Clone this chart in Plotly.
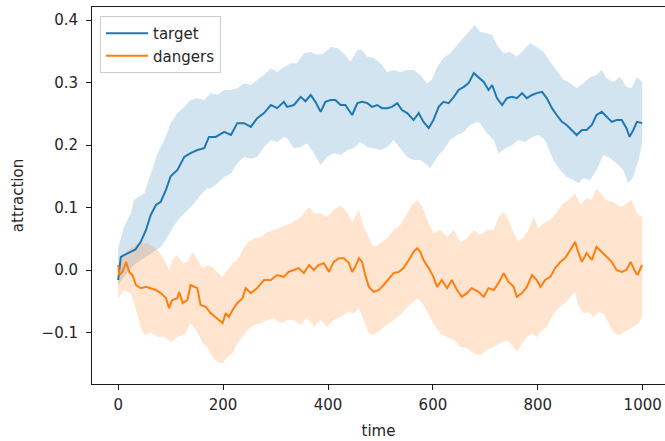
import plotly.graph_objects as go

# ---- target: mean attraction and spread band ----
target_t = [0, 5, 14, 24, 33, 43, 53, 62, 72, 81, 91, 100, 113, 126, 138, 151, 164, 173, 186, 202,
            215, 227, 240, 253, 265, 278, 291, 303, 316, 322, 335, 348, 357, 367, 376, 386, 395, 405,
            414, 424, 433, 446, 456, 465, 475, 484, 494, 503, 513, 522, 532, 541, 551, 563, 573, 582,
            592, 601, 611, 620, 630, 640, 649, 659, 668, 678, 687, 697, 706, 713, 722, 732, 741, 751,
            760, 770, 779, 789, 798, 808, 817, 827, 836, 846, 855, 865, 874, 884, 893, 903, 912, 922,
            931, 941, 950, 960, 969, 975, 982, 989, 999]
target_mean = [-0.016, 0.021, 0.025, 0.029, 0.033, 0.045, 0.064, 0.088, 0.104, 0.109, 0.128, 0.150,
               0.160, 0.181, 0.187, 0.192, 0.195, 0.213, 0.213, 0.221, 0.216, 0.235, 0.235, 0.229,
               0.243, 0.251, 0.264, 0.259, 0.269, 0.261, 0.264, 0.277, 0.270, 0.280, 0.269, 0.253,
               0.269, 0.272, 0.272, 0.264, 0.264, 0.248, 0.267, 0.269, 0.267, 0.261, 0.264, 0.259,
               0.259, 0.261, 0.267, 0.256, 0.251, 0.240, 0.251, 0.237, 0.227, 0.240, 0.261, 0.269,
               0.267, 0.277, 0.288, 0.293, 0.299, 0.315, 0.309, 0.301, 0.288, 0.296, 0.275, 0.264,
               0.275, 0.277, 0.275, 0.283, 0.275, 0.280, 0.283, 0.285, 0.275, 0.259, 0.248, 0.237,
               0.232, 0.224, 0.216, 0.224, 0.224, 0.232, 0.248, 0.253, 0.245, 0.237, 0.240, 0.240,
               0.227, 0.213, 0.224, 0.237, 0.235]

target_hi_t = [0, 11, 24, 30, 50, 62, 75, 88, 100, 113, 126, 138, 151, 164, 176, 189, 202, 215, 227,
               240, 253, 265, 278, 291, 303, 316, 329, 341, 354, 367, 380, 392, 405, 418, 430, 443,
               456, 465, 475, 487, 500, 513, 525, 538, 551, 563, 576, 589, 598, 608, 620, 633, 646,
               659, 671, 680, 690, 703, 713, 722, 735, 747, 760, 773, 785, 798, 811, 824, 836, 849,
               862, 874, 887, 900, 912, 922, 931, 944, 957, 969, 979, 989, 999]
target_hi = [0.035, 0.069, 0.091, 0.112, 0.123, 0.155, 0.187, 0.208, 0.235, 0.251, 0.261, 0.272,
             0.275, 0.272, 0.283, 0.280, 0.288, 0.288, 0.291, 0.299, 0.296, 0.304, 0.312, 0.323,
             0.317, 0.325, 0.331, 0.331, 0.347, 0.349, 0.344, 0.347, 0.357, 0.355, 0.347, 0.333,
             0.352, 0.352, 0.341, 0.339, 0.331, 0.317, 0.320, 0.317, 0.320, 0.320, 0.312, 0.299,
             0.304, 0.325, 0.339, 0.347, 0.360, 0.373, 0.384, 0.392, 0.381, 0.379, 0.376, 0.360,
             0.347, 0.349, 0.341, 0.352, 0.363, 0.357, 0.349, 0.333, 0.320, 0.304, 0.299, 0.291,
             0.299, 0.309, 0.312, 0.320, 0.307, 0.301, 0.309, 0.293, 0.291, 0.309, 0.301]

target_lo_t = [0, 10, 20, 30, 43, 60, 81, 94, 107, 119, 132, 145, 157, 170, 176, 189, 202, 215, 227,
               240, 253, 265, 278, 291, 303, 316, 322, 335, 348, 360, 373, 386, 398, 411, 424, 437,
               449, 462, 475, 487, 500, 513, 525, 538, 551, 563, 576, 589, 595, 608, 620, 633, 646,
               659, 671, 684, 690, 703, 716, 725, 738, 751, 763, 776, 789, 801, 814, 824, 833, 843,
               855, 868, 877, 887, 900, 912, 925, 938, 950, 963, 972, 982, 992, 999]
target_lo = [-0.025, -0.012, -0.002, 0.008, 0.015, 0.025, 0.037, 0.053, 0.072, 0.085, 0.096, 0.107,
             0.120, 0.131, 0.130, 0.139, 0.149, 0.155, 0.171, 0.181, 0.178, 0.181, 0.197, 0.208,
             0.205, 0.213, 0.211, 0.195, 0.197, 0.203, 0.187, 0.168, 0.181, 0.187, 0.184, 0.192,
             0.195, 0.205, 0.197, 0.195, 0.192, 0.197, 0.208, 0.195, 0.181, 0.176, 0.176, 0.168,
             0.163, 0.181, 0.192, 0.208, 0.216, 0.221, 0.232, 0.237, 0.235, 0.219, 0.208, 0.187,
             0.195, 0.200, 0.208, 0.205, 0.213, 0.216, 0.208, 0.187, 0.171, 0.160, 0.149, 0.144,
             0.139, 0.147, 0.144, 0.160, 0.184, 0.179, 0.171, 0.160, 0.139, 0.149, 0.176, 0.203]

# ---- dangers: mean attraction and spread band ----
dangers_t = [0, 2, 8, 15, 21, 27, 34, 43, 53, 62, 72, 81, 91, 97, 103, 113, 116, 123, 132, 138, 145,
             151, 157, 167, 176, 186, 192, 199, 205, 211, 218, 227, 237, 243, 253, 265, 278, 291,
             303, 316, 325, 335, 344, 354, 364, 373, 382, 392, 402, 411, 421, 430, 440, 446, 452,
             459, 465, 471, 478, 487, 497, 506, 516, 525, 535, 544, 554, 563, 570, 576, 582, 592,
             601, 608, 617, 627, 636, 646, 655, 665, 674, 687, 697, 706, 716, 725, 735, 744, 754,
             760, 770, 779, 789, 798, 805, 814, 824, 833, 843, 852, 862, 871, 877, 884, 893, 903,
             912, 922, 931, 941, 950, 960, 969, 977, 984, 990, 999]
dangers_mean = [0.008, -0.008, -0.003, 0.013, -0.003, -0.008, -0.024, -0.029, -0.027, -0.029,
                -0.032, -0.037, -0.045, -0.061, -0.048, -0.045, -0.035, -0.053, -0.048, -0.024,
                -0.027, -0.029, -0.056, -0.059, -0.069, -0.075, -0.080, -0.085, -0.069, -0.075,
                -0.064, -0.053, -0.045, -0.029, -0.037, -0.029, -0.016, -0.016, -0.008, -0.011,
                -0.003, 0.000, 0.003, -0.005, 0.008, 0.000, 0.008, 0.011, -0.003, 0.013, 0.019,
                0.019, 0.011, -0.003, 0.005, 0.019, 0.013, -0.008, -0.027, -0.035, -0.032, -0.024,
                -0.013, -0.005, -0.003, 0.003, 0.016, 0.029, 0.035, 0.029, 0.016, 0.003, -0.011,
                -0.027, -0.016, -0.029, -0.016, -0.032, -0.043, -0.037, -0.029, -0.035, -0.043,
                -0.029, -0.032, -0.021, -0.005, -0.019, -0.027, -0.043, -0.037, -0.027, -0.008,
                -0.016, -0.027, -0.016, -0.011, 0.003, 0.013, 0.019, 0.032, 0.045, 0.029, 0.013,
                0.027, 0.016, 0.037, 0.029, 0.021, 0.013, 0.000, -0.003, 0.000, 0.013, 0.000,
                -0.008, 0.008]

dangers_hi_t = [0, 11, 24, 37, 56, 75, 88, 97, 103, 113, 123, 132, 142, 151, 161, 170, 180, 189, 199,
                208, 218, 227, 237, 246, 259, 272, 284, 297, 310, 329, 348, 364, 373, 386, 398, 411,
                424, 437, 446, 459, 468, 478, 487, 500, 513, 525, 538, 551, 560, 570, 580, 589, 601,
                614, 627, 640, 652, 665, 678, 690, 703, 716, 725, 735, 744, 754, 763, 773, 782, 792,
                801, 811, 824, 836, 849, 862, 871, 881, 893, 903, 912, 922, 931, 944, 957, 969, 979,
                989, 999]
dangers_hi = [0.010, 0.025, 0.035, 0.043, 0.043, 0.032, 0.016, 0.000, 0.016, 0.024, 0.011, 0.013,
              0.029, 0.016, 0.003, 0.008, 0.005, -0.003, -0.011, 0.000, 0.011, 0.016, 0.032, 0.043,
              0.051, 0.053, 0.061, 0.064, 0.069, 0.075, 0.085, 0.101, 0.091, 0.091, 0.085, 0.096,
              0.104, 0.091, 0.077, 0.096, 0.069, 0.051, 0.037, 0.043, 0.051, 0.064, 0.072, 0.091,
              0.104, 0.112, 0.101, 0.080, 0.059, 0.064, 0.053, 0.064, 0.045, 0.051, 0.064, 0.056,
              0.064, 0.064, 0.085, 0.093, 0.080, 0.059, 0.045, 0.053, 0.064, 0.085, 0.067, 0.075,
              0.080, 0.093, 0.107, 0.115, 0.123, 0.104, 0.115, 0.112, 0.131, 0.120, 0.112, 0.109,
              0.101, 0.107, 0.112, 0.091, 0.085]

dangers_lo_t = [0, 11, 24, 34, 43, 50, 62, 75, 88, 100, 113, 126, 138, 151, 161, 170, 180, 189, 199,
                208, 218, 227, 237, 246, 259, 272, 284, 297, 310, 322, 335, 348, 360, 373, 386, 398,
                411, 424, 437, 449, 459, 468, 478, 487, 500, 513, 525, 538, 551, 560, 570, 580, 589,
                601, 614, 627, 640, 652, 665, 678, 690, 703, 716, 728, 741, 754, 760, 770, 779, 789,
                798, 808, 817, 827, 836, 846, 855, 865, 871, 877, 887, 897, 906, 916, 925, 935, 944,
                954, 963, 972, 982, 992, 999]
dangers_lo = [-0.045, -0.032, -0.037, -0.064, -0.091, -0.104, -0.099, -0.107, -0.107, -0.115,
              -0.107, -0.104, -0.085, -0.099, -0.117, -0.123, -0.139, -0.147, -0.149, -0.139,
              -0.133, -0.117, -0.107, -0.096, -0.088, -0.085, -0.080, -0.077, -0.085, -0.080,
              -0.080, -0.088, -0.075, -0.091, -0.080, -0.091, -0.080, -0.075, -0.067, -0.069,
              -0.061, -0.080, -0.101, -0.104, -0.096, -0.088, -0.080, -0.072, -0.059, -0.053,
              -0.045, -0.053, -0.067, -0.085, -0.101, -0.107, -0.112, -0.123, -0.125, -0.133,
              -0.136, -0.128, -0.123, -0.117, -0.112, -0.123, -0.131, -0.117, -0.107, -0.101,
              -0.107, -0.096, -0.091, -0.075, -0.064, -0.056, -0.051, -0.040, -0.035, -0.056,
              -0.069, -0.067, -0.075, -0.067, -0.069, -0.085, -0.099, -0.104, -0.099, -0.096,
              -0.091, -0.085, -0.075]

x_ticks = [0, 200, 400, 600, 800, 1000]
y_ticks = [-0.1, 0.0, 0.1, 0.2, 0.3, 0.4]
y_tick_text = ["\u22120.1", "0.0", "0.1", "0.2", "0.3", "0.4"]

BLUE = "#1f77b4"
ORANGE = "#ff7f0e"
FONT = "DejaVu Sans"


def band(t_hi, hi, t_lo, lo, rgba):
    # closed polygon: upper edge left->right, lower edge right->left
    return go.Scatter(
        x=list(t_hi) + list(reversed(t_lo)),
        y=list(hi) + list(reversed(lo)),
        fill="toself", fillcolor=rgba, line=dict(width=0),
        mode="lines", hoverinfo="skip", showlegend=False,
    )


fig = go.Figure()
fig.add_trace(band(target_hi_t, target_hi, target_lo_t, target_lo, "rgba(31,119,180,0.2)"))
fig.add_trace(band(dangers_hi_t, dangers_hi, dangers_lo_t, dangers_lo, "rgba(255,127,14,0.2)"))
fig.add_trace(go.Scatter(x=target_t, y=target_mean, mode="lines", name="target",
                         line=dict(color=BLUE, width=2)))
fig.add_trace(go.Scatter(x=dangers_t, y=dangers_mean, mode="lines", name="dangers",
                         line=dict(color=ORANGE, width=2)))

axis_common = dict(
    showgrid=False, zeroline=False, showline=True, linecolor="#1a1a1a", linewidth=1,
    ticks="outside", ticklen=5, tickwidth=1, tickcolor="#1a1a1a",
    tickfont=dict(family=FONT, size=15, color="#262626"),
)

fig.update_layout(
    width=665, height=441,
    margin=dict(l=92, r=0, t=7, b=57),
    paper_bgcolor="white", plot_bgcolor="white",
    font=dict(family=FONT, size=15, color="#262626"),
    xaxis=dict(range=[-49.95, 1042.5], tickvals=x_ticks, mirror=True, ticklabelstandoff=2,
               title=dict(text="time", font=dict(family=FONT, size=15), standoff=12),
               **axis_common),
    yaxis=dict(range=[-0.1824, 0.4208], tickvals=y_ticks, ticktext=y_tick_text,
               ticklabelstandoff=5,
               title=dict(text="attraction", font=dict(family=FONT, size=15), standoff=14),
               **axis_common),
    legend=dict(x=0.014, y=0.976, xanchor="left", yanchor="top",
                bgcolor="rgba(255,255,255,0.8)", bordercolor="#cccccc", borderwidth=1,
                font=dict(family=FONT, size=15, color="#262626"),
                tracegroupgap=0, itemwidth=42),
    showlegend=True,
)

fig.write_html("out.html")
